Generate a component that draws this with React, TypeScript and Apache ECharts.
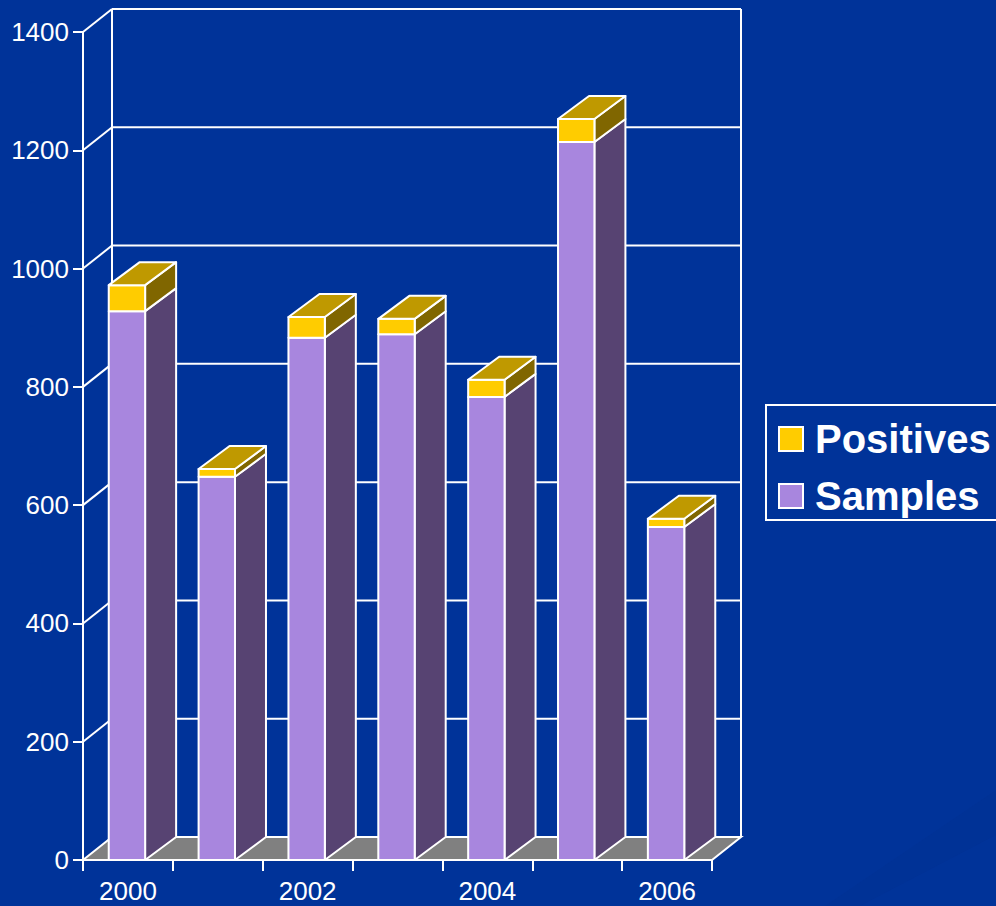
import React, { useEffect, useRef } from "react";
import * as echarts from "echarts";

const categories = ["2000", "2001", "2002", "2003", "2004", "2005", "2006"];
const samples = [928, 648, 883, 889, 783, 1214, 563];
const positives = [44, 13, 35, 26, 29, 39, 14];
const yTicks = [0, 200, 400, 600, 800, 1000, 1200, 1400];

const WALL_DX = 29;
const WALL_DY = 23;
const BAR_DX = 31;
const BAR_DY = 23;
const LINE = 2;
const FONT = '"Liberation Sans", Arial, sans-serif';

function wallItem(params: any, api: any) {
  const v = api.value(0);
  const first = api.coord([0, v]);
  const rect = params.coordSys;
  const x0 = rect.x;
  const x1 = rect.x + rect.width;
  const y = first[1];
  const line = (a: number, b: number, c: number, d: number) => ({
    type: "line",
    shape: { x1: a, y1: b, x2: c, y2: d },
    style: { stroke: "#fff", lineWidth: LINE, fill: "none" },
  });
  const children: any[] = [];
  if (v === 0) {
    children.push({
      type: "polygon",
      shape: { points: [[x0, y], [x0 + WALL_DX, y - WALL_DY], [x1 + WALL_DX, y - WALL_DY], [x1, y]] },
      style: { fill: "#808080", stroke: "#fff", lineWidth: LINE },
    });
    const top = api.coord([0, yTicks[yTicks.length - 1]])[1];
    children.push(line(x0 + WALL_DX, y - WALL_DY, x0 + WALL_DX, top - WALL_DY));
    children.push(line(x1 + WALL_DX, y - WALL_DY, x1 + WALL_DX, top - WALL_DY));
  } else {
    children.push(line(x0, y, x0 + WALL_DX, y - WALL_DY));
    children.push(line(x0 + WALL_DX, y - WALL_DY, x1 + WALL_DX, y - WALL_DY));
  }
  return { type: "group", children };
}

function makeBarItem(front: string, side: string, top: string | null) {
  return (_params: any, api: any) => {
    const i = api.value(0);
    const from = api.coord([i, api.value(1)]);
    const to = api.coord([i, api.value(2)]);
    const w = api.size([1, 0])[0] * 0.405;
    const l = from[0] - 1 - w / 2;
    const r = l + w;
    const st = (fill: string) => ({ fill, stroke: "#fff", lineWidth: LINE, lineJoin: "round" });
    const children: any[] = [
      {
        type: "polygon",
        shape: { points: [[r, from[1]], [r + BAR_DX, from[1] - BAR_DY], [r + BAR_DX, to[1] - BAR_DY], [r, to[1]]] },
        style: st(side),
      },
      {
        type: "polygon",
        shape: { points: [[l, from[1]], [r, from[1]], [r, to[1]], [l, to[1]]] },
        style: st(front),
      },
    ];
    if (top) {
      children.push({
        type: "polygon",
        shape: { points: [[l, to[1]], [r, to[1]], [r + BAR_DX, to[1] - BAR_DY], [l + BAR_DX, to[1] - BAR_DY]] },
        style: st(top),
      });
    }
    return { type: "group", children };
  };
}

export default function App() {
  const ref = useRef<HTMLDivElement>(null);
  useEffect(() => {
    const chart = echarts.init(ref.current!, undefined, { renderer: "svg" });
    chart.setOption({
      animation: false,
      backgroundColor: "#003399",
      textStyle: { fontFamily: FONT },
      graphic: [
        {
          type: "polygon",
          z: -10,
          silent: true,
          shape: { points: [[996, 790], [996, 835], [860, 906], [825, 906]] },
          style: { fill: "rgba(0,20,80,0.04)" },
        },
      ],
      grid: { left: 83, right: 284, top: 32, bottom: 46, containLabel: false },
      legend: {
        left: 766,
        top: 405,
        orient: "vertical",
        backgroundColor: "#003399",
        borderColor: "#fff",
        borderWidth: 2,
        borderRadius: 0,
        padding: [14, 40, 4, 12],
        itemWidth: 24,
        itemHeight: 24,
        itemGap: 17,
        selectedMode: false,
        textStyle: { color: "#fff", fontSize: 40, fontWeight: "bold", fontFamily: FONT, padding: [2, 0, 0, 7] },
        data: [
          { name: "Positives", icon: "rect", itemStyle: { color: "#FFCC00", borderColor: "#fff", borderWidth: 2 } },
          { name: "Samples", icon: "rect", itemStyle: { color: "#A886DE", borderColor: "#fff", borderWidth: 2 } },
        ],
      },
      xAxis: {
        type: "category",
        data: categories,
        axisLine: { lineStyle: { color: "#fff", width: 2 } },
        axisTick: { show: true, length: 11, interval: 0, lineStyle: { color: "#fff", width: 2 } },
        axisLabel: { color: "#fff", fontSize: 26, lineHeight: 22, interval: 1, margin: 20, fontFamily: FONT },
        splitLine: { show: false },
      },
      yAxis: {
        type: "value",
        min: 0,
        max: 1400,
        interval: 200,
        axisLine: { show: true, lineStyle: { color: "#fff", width: 2 } },
        axisTick: { show: true, length: 10, lineStyle: { color: "#fff", width: 2 } },
        axisLabel: { color: "#fff", fontSize: 26, margin: 14, fontFamily: FONT, formatter: (v: number) => String(v) },
        splitLine: { show: false },
      },
      series: [
        {
          type: "custom",
          name: "walls",
          silent: true,
          z: 1,
          renderItem: wallItem,
          data: yTicks.map((v) => [v]),
          encode: { y: 0 },
        },
        {
          type: "custom",
          name: "Samples",
          z: 3,
          itemStyle: { color: "#A886DE" },
          renderItem: makeBarItem("#A886DE", "#574372", null),
          data: categories.map((_, i) => [i, 0, samples[i]]),
          encode: { x: 0, y: [1, 2] },
        },
        {
          type: "custom",
          name: "Positives",
          z: 4,
          itemStyle: { color: "#FFCC00" },
          renderItem: makeBarItem("#FFCC00", "#806600", "#BF9900"),
          data: categories.map((_, i) => [i, samples[i], samples[i] + positives[i]]),
          encode: { x: 0, y: [1, 2] },
        },
      ],
    });
    return () => chart.dispose();
  }, []);
  return <div ref={ref} style={{ position: "fixed", left: 0, top: 0, width: 996, height: 906 }} />;
}
